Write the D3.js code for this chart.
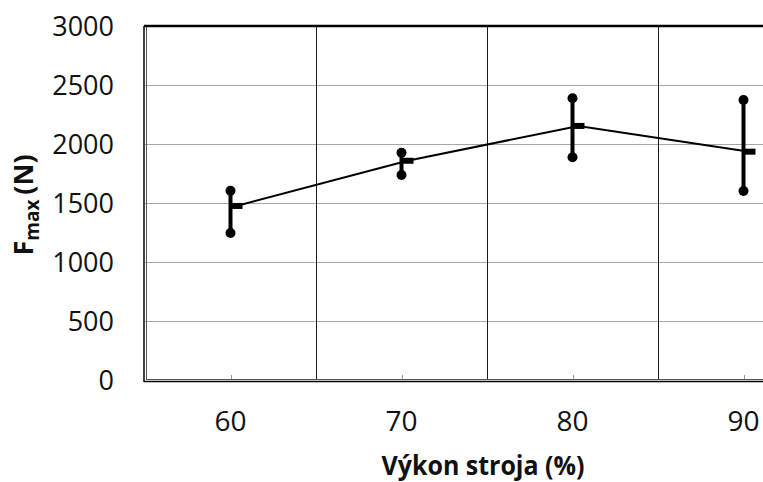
<!DOCTYPE html>
<html>
<head>
<meta charset="utf-8">
<script src="https://cdn.jsdelivr.net/npm/d3@7"></script>
<style>
  body { margin: 0; background: #fff; }
  text { font-family: "Open Sans", sans-serif; fill: #111; }
</style>
</head>
<body>
<div id="chart"></div>
<script>
// data
const categories = [60, 70, 80, 90];
const meanValues = [1475, 1858, 2153, 1935];
const highValues = [1604, 1926, 2387, 2373];
const lowValues = [1246, 1737, 1887, 1602];
const yTicks = [0, 500, 1000, 1500, 2000, 2500, 3000];

var width = 763;
var height = 482;
var plotLeft = 145, plotTop = 26, plotBottom = 380;
var band = 171;

var svg = d3.select("#chart").append("svg")
  .attr("width", width)
  .attr("height", height);

var x = d3.scaleBand()
  .domain(categories)
  .range([plotLeft, plotLeft + band * categories.length])
  .paddingInner(0).paddingOuter(0);
var y = d3.scaleLinear().domain([0, 3000]).range([plotBottom, plotTop]);
var cx = function(c) { return x(c) + x.bandwidth() / 2; };

// horizontal gridlines
svg.append("g")
  .selectAll("line")
  .data(yTicks.slice(1, -1))
  .enter().append("line")
  .attr("x1", plotLeft).attr("x2", width)
  .attr("y1", d => Math.round(y(d)) + 0.5).attr("y2", d => Math.round(y(d)) + 0.5)
  .attr("stroke", "#a6a6a6").attr("stroke-width", 1);

// vertical gridlines between categories
svg.append("g")
  .selectAll("line")
  .data(categories.slice(1))
  .enter().append("line")
  .attr("x1", d => x(d) + 0.5).attr("x2", d => x(d) + 0.5)
  .attr("y1", plotTop).attr("y2", plotBottom)
  .attr("stroke", "#1a1a1a").attr("stroke-width", 1);

// small ticks at category centres
svg.append("g")
  .selectAll("line")
  .data(categories)
  .enter().append("line")
  .attr("x1", d => Math.round(cx(d)) + 0.5).attr("x2", d => Math.round(cx(d)) + 0.5)
  .attr("y1", plotBottom - 5).attr("y2", plotBottom)
  .attr("stroke", "#999").attr("stroke-width", 1);

// plot frame
svg.append("line").attr("x1", plotLeft - 1).attr("x2", width).attr("y1", plotTop).attr("y2", plotTop)
  .attr("stroke", "#000").attr("stroke-width", 2.5);
svg.append("line").attr("x1", plotLeft - 1).attr("x2", plotLeft - 1).attr("y1", plotTop).attr("y2", plotBottom + 2)
  .attr("stroke", "#000").attr("stroke-width", 1.5);
svg.append("line").attr("x1", plotLeft + 1.5).attr("x2", plotLeft + 1.5).attr("y1", plotTop + 1).attr("y2", plotBottom)
  .attr("stroke", "#555").attr("stroke-width", 1);
svg.append("line").attr("x1", plotLeft - 1).attr("x2", width).attr("y1", plotBottom + 1.5).attr("y2", plotBottom + 1.5)
  .attr("stroke", "#000").attr("stroke-width", 1.5);
svg.append("line").attr("x1", plotLeft + 1).attr("x2", width).attr("y1", plotBottom - 0.5).attr("y2", plotBottom - 0.5)
  .attr("stroke", "#555").attr("stroke-width", 1);

// y tick labels
svg.append("g")
  .selectAll("text")
  .data(yTicks)
  .enter().append("text")
  .attr("x", 114)
  .attr("y", d => y(d))
  .attr("dy", "0.36em")
  .attr("text-anchor", "end")
  .style("font-size", "27px")
  .text(d => d);

// x tick labels
svg.append("g")
  .selectAll("text")
  .data(categories)
  .enter().append("text")
  .attr("x", d => cx(d))
  .attr("y", 421)
  .attr("dy", "0.36em")
  .attr("text-anchor", "middle")
  .style("font-size", "28px")
  .text(d => d);

// axis titles
svg.append("text")
  .attr("x", 483).attr("y", 475)
  .attr("text-anchor", "middle")
  .style("font-size", "26px").style("font-weight", "bold")
  .attr("textLength", 203).attr("lengthAdjust", "spacingAndGlyphs")
  .text("Výkon stroja (%)");

var yl = svg.append("text")
  .attr("transform", "translate(33,205) rotate(-90)")
  .attr("text-anchor", "middle")
  .style("font-size", "27px").style("font-weight", "bold");
yl.append("tspan").text("F");
yl.append("tspan").attr("dy", 6).style("font-size", "19px").text("max ");
yl.append("tspan").attr("dy", -6).text("(N)");

// error bars
var err = svg.append("g");
err.selectAll("line")
  .data(categories)
  .enter().append("line")
  .attr("x1", d => cx(d)).attr("x2", d => cx(d))
  .attr("y1", (d, i) => y(highValues[i])).attr("y2", (d, i) => y(lowValues[i]))
  .attr("stroke", "#000").attr("stroke-width", 4);
err.selectAll("circle.hi")
  .data(categories)
  .enter().append("circle").attr("class", "hi")
  .attr("cx", d => cx(d)).attr("cy", (d, i) => y(highValues[i])).attr("r", 5);
err.selectAll("circle.lo")
  .data(categories)
  .enter().append("circle").attr("class", "lo")
  .attr("cx", d => cx(d)).attr("cy", (d, i) => y(lowValues[i])).attr("r", 5);

// mean line with dash markers
var line = d3.line()
  .x((d, i) => cx(categories[i]) + 6)
  .y(d => y(d));
svg.append("path")
  .datum(meanValues)
  .attr("d", line)
  .attr("fill", "none")
  .attr("stroke", "#000")
  .attr("stroke-width", 2);
svg.append("g")
  .selectAll("rect")
  .data(meanValues)
  .enter().append("rect")
  .attr("x", (d, i) => cx(categories[i]))
  .attr("y", d => y(d) - 3)
  .attr("width", 12).attr("height", 6)
  .attr("fill", "#000");
</script>
</body>
</html>
